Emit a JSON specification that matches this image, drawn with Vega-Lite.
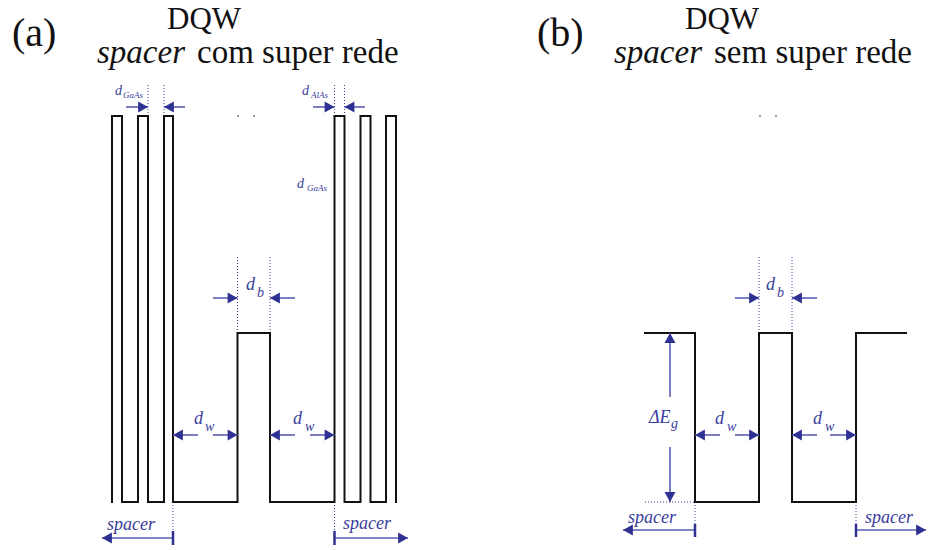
{
  "$schema": "https://vega.github.io/schema/vega-lite/v6.json",
  "width": 928,
  "height": 550,
  "autosize": {"type": "none"},
  "padding": 0,
  "background": "white",
  "config": {"view": {"stroke": null}},
  "datasets": {
    "profile": [
      {"panel": "a", "i": 1, "x": 112, "y": 502},
      {"panel": "a", "i": 2, "x": 112, "y": 116},
      {"panel": "a", "i": 3, "x": 122, "y": 116},
      {"panel": "a", "i": 4, "x": 122, "y": 502},
      {"panel": "a", "i": 5, "x": 138, "y": 502},
      {"panel": "a", "i": 6, "x": 138, "y": 116},
      {"panel": "a", "i": 7, "x": 148, "y": 116},
      {"panel": "a", "i": 8, "x": 148, "y": 502},
      {"panel": "a", "i": 9, "x": 164, "y": 502},
      {"panel": "a", "i": 10, "x": 164, "y": 116},
      {"panel": "a", "i": 11, "x": 173, "y": 116},
      {"panel": "a", "i": 12, "x": 173, "y": 502},
      {"panel": "a", "i": 13, "x": 237.5, "y": 502},
      {"panel": "a", "i": 14, "x": 237.5, "y": 333},
      {"panel": "a", "i": 15, "x": 270, "y": 333},
      {"panel": "a", "i": 16, "x": 270, "y": 502},
      {"panel": "a", "i": 17, "x": 334.5, "y": 502},
      {"panel": "a", "i": 18, "x": 334.5, "y": 116},
      {"panel": "a", "i": 19, "x": 344.5, "y": 116},
      {"panel": "a", "i": 20, "x": 344.5, "y": 502},
      {"panel": "a", "i": 21, "x": 360.5, "y": 502},
      {"panel": "a", "i": 22, "x": 360.5, "y": 116},
      {"panel": "a", "i": 23, "x": 370.5, "y": 116},
      {"panel": "a", "i": 24, "x": 370.5, "y": 502},
      {"panel": "a", "i": 25, "x": 386, "y": 502},
      {"panel": "a", "i": 26, "x": 386, "y": 116},
      {"panel": "a", "i": 27, "x": 396, "y": 116},
      {"panel": "a", "i": 28, "x": 396, "y": 502},
      {"panel": "b", "i": 1, "x": 645, "y": 333},
      {"panel": "b", "i": 2, "x": 695, "y": 333},
      {"panel": "b", "i": 3, "x": 695, "y": 502},
      {"panel": "b", "i": 4, "x": 759, "y": 502},
      {"panel": "b", "i": 5, "x": 759, "y": 333},
      {"panel": "b", "i": 6, "x": 792, "y": 333},
      {"panel": "b", "i": 7, "x": 792, "y": 502},
      {"panel": "b", "i": 8, "x": 856, "y": 502},
      {"panel": "b", "i": 9, "x": 856, "y": 333},
      {"panel": "b", "i": 10, "x": 906, "y": 333}
    ],
    "guides": [
      {"x": 148, "y": 85, "x2": 148, "y2": 116},
      {"x": 164, "y": 85, "x2": 164, "y2": 116},
      {"x": 334.5, "y": 85, "x2": 334.5, "y2": 116},
      {"x": 344.5, "y": 85, "x2": 344.5, "y2": 116},
      {"x": 237.5, "y": 257, "x2": 237.5, "y2": 333},
      {"x": 270, "y": 257, "x2": 270, "y2": 333},
      {"x": 173, "y": 502, "x2": 173, "y2": 545},
      {"x": 334.5, "y": 502, "x2": 334.5, "y2": 545},
      {"x": 759, "y": 257, "x2": 759, "y2": 333},
      {"x": 792, "y": 257, "x2": 792, "y2": 333},
      {"x": 645, "y": 502, "x2": 695, "y2": 502},
      {"x": 695, "y": 502, "x2": 695, "y2": 538},
      {"x": 856, "y": 502, "x2": 856, "y2": 538}
    ],
    "shafts": [
      {"x": 126, "y": 107, "x2": 148, "y2": 107},
      {"x": 164, "y": 107, "x2": 185, "y2": 107},
      {"x": 313, "y": 107, "x2": 334.5, "y2": 107},
      {"x": 344.5, "y": 107, "x2": 365, "y2": 107},
      {"x": 213, "y": 298, "x2": 237.5, "y2": 298},
      {"x": 270, "y": 298, "x2": 295, "y2": 298},
      {"x": 173, "y": 435, "x2": 198, "y2": 435},
      {"x": 213, "y": 435, "x2": 237.5, "y2": 435},
      {"x": 270, "y": 435, "x2": 295, "y2": 435},
      {"x": 310, "y": 435, "x2": 334.5, "y2": 435},
      {"x": 102, "y": 538, "x2": 173, "y2": 538},
      {"x": 334.5, "y": 538, "x2": 408, "y2": 538},
      {"x": 735, "y": 298, "x2": 759, "y2": 298},
      {"x": 792, "y": 298, "x2": 817, "y2": 298},
      {"x": 695, "y": 435, "x2": 720, "y2": 435},
      {"x": 735, "y": 435, "x2": 759, "y2": 435},
      {"x": 792, "y": 435, "x2": 817, "y2": 435},
      {"x": 830, "y": 435, "x2": 856, "y2": 435},
      {"x": 670, "y": 333, "x2": 670, "y2": 397},
      {"x": 670, "y": 447, "x2": 670, "y2": 502},
      {"x": 623, "y": 530, "x2": 695, "y2": 530},
      {"x": 856, "y": 530, "x2": 926, "y2": 530}
    ],
    "ticks": [
      {"x": 173, "y": 531, "x2": 173, "y2": 545},
      {"x": 334.5, "y": 531, "x2": 334.5, "y2": 545},
      {"x": 695, "y": 524, "x2": 695, "y2": 537},
      {"x": 856, "y": 524, "x2": 856, "y2": 537}
    ],
    "heads": [
      {"x": 148, "y": 107, "dir": "right"},
      {"x": 164, "y": 107, "dir": "left"},
      {"x": 334.5, "y": 107, "dir": "right"},
      {"x": 344.5, "y": 107, "dir": "left"},
      {"x": 237.5, "y": 298, "dir": "right"},
      {"x": 270, "y": 298, "dir": "left"},
      {"x": 173, "y": 435, "dir": "left"},
      {"x": 237.5, "y": 435, "dir": "right"},
      {"x": 270, "y": 435, "dir": "left"},
      {"x": 334.5, "y": 435, "dir": "right"},
      {"x": 102, "y": 538, "dir": "left"},
      {"x": 408, "y": 538, "dir": "right"},
      {"x": 759, "y": 298, "dir": "right"},
      {"x": 792, "y": 298, "dir": "left"},
      {"x": 695, "y": 435, "dir": "left"},
      {"x": 759, "y": 435, "dir": "right"},
      {"x": 792, "y": 435, "dir": "left"},
      {"x": 856, "y": 435, "dir": "right"},
      {"x": 670, "y": 333, "dir": "up"},
      {"x": 670, "y": 502, "dir": "down"},
      {"x": 623, "y": 530, "dir": "left"},
      {"x": 926, "y": 530, "dir": "right"}
    ],
    "specks": [
      {"x": 238, "y": 116},
      {"x": 254, "y": 116},
      {"x": 760, "y": 116},
      {"x": 776, "y": 116}
    ],
    "labels": [
      {"role": "panel", "x": 12, "y": 46, "text": "(a)"},
      {"role": "panel", "x": 537, "y": 46, "text": "(b)"},
      {"role": "head", "x": 167, "y": 29, "text": "DQW"},
      {"role": "head", "x": 685, "y": 29, "text": "DQW"},
      {"role": "title", "x": 197, "y": 63, "text": "com super rede"},
      {"role": "title", "x": 714, "y": 63, "text": "sem super rede"},
      {"role": "titleItalic", "x": 97, "y": 63, "text": "spacer"},
      {"role": "titleItalic", "x": 614, "y": 63, "text": "spacer"},
      {"role": "sym", "x": 194, "y": 424, "text": "d"},
      {"role": "sub", "x": 205, "y": 431, "text": "w"},
      {"role": "sym", "x": 293, "y": 424, "text": "d"},
      {"role": "sub", "x": 305, "y": 431, "text": "w"},
      {"role": "sym", "x": 715, "y": 424, "text": "d"},
      {"role": "sub", "x": 727, "y": 431, "text": "w"},
      {"role": "sym", "x": 813, "y": 424, "text": "d"},
      {"role": "sub", "x": 825, "y": 431, "text": "w"},
      {"role": "sym", "x": 246, "y": 290, "text": "d"},
      {"role": "sub", "x": 257, "y": 297, "text": "b"},
      {"role": "sym", "x": 766, "y": 290, "text": "d"},
      {"role": "sub", "x": 777, "y": 297, "text": "b"},
      {"role": "sym", "x": 649, "y": 423, "text": "ΔE"},
      {"role": "sub", "x": 671, "y": 428, "text": "g"},
      {"role": "spacer", "x": 107, "y": 530, "text": "spacer"},
      {"role": "spacer", "x": 343, "y": 529, "text": "spacer"},
      {"role": "spacer", "x": 628, "y": 523, "text": "spacer"},
      {"role": "spacer", "x": 865, "y": 523, "text": "spacer"},
      {"role": "smallSym", "x": 115, "y": 95, "text": "d"},
      {"role": "smallSub", "x": 123, "y": 98, "text": "GaAs"},
      {"role": "smallSym", "x": 302, "y": 95, "text": "d"},
      {"role": "smallSub", "x": 311, "y": 98, "text": "AlAs"},
      {"role": "smallSym", "x": 297, "y": 188, "text": "d"},
      {"role": "smallSub", "x": 307, "y": 191, "text": "GaAs"}
    ]
  },
  "encoding": {
    "x": {"field": "x", "type": "quantitative", "scale": {"domain": [0, 928]}, "axis": null},
    "y": {"field": "y", "type": "quantitative", "scale": {"domain": [0, 550], "reverse": true}, "axis": null}
  },
  "layer": [
    {
      "data": {"name": "guides"},
      "mark": {"type": "rule", "color": "#3a3d9c", "strokeWidth": 1, "strokeDash": [1, 2]},
      "encoding": {"x2": {"field": "x2"}, "y2": {"field": "y2"}}
    },
    {
      "data": {"name": "profile"},
      "mark": {"type": "line", "color": "#111111", "strokeWidth": 2, "strokeJoin": "miter", "strokeCap": "square"},
      "encoding": {"detail": {"field": "panel"}, "order": {"field": "i", "type": "quantitative"}}
    },
    {
      "data": {"name": "shafts"},
      "mark": {"type": "rule", "color": "#5b5fb3", "strokeWidth": 1.6},
      "encoding": {"x2": {"field": "x2"}, "y2": {"field": "y2"}}
    },
    {
      "data": {"name": "ticks"},
      "mark": {"type": "rule", "color": "#2e3192", "strokeWidth": 2.5},
      "encoding": {"x2": {"field": "x2"}, "y2": {"field": "y2"}}
    },
    {
      "data": {"name": "heads"},
      "mark": {"type": "point", "filled": true, "size": 121, "opacity": 1, "color": "#2e3192", "strokeWidth": 0},
      "encoding": {
        "shape": {
          "field": "dir",
          "type": "nominal",
          "legend": null,
          "scale": {
            "domain": ["right", "left", "up", "down"],
            "range": ["M0,0L-1.8,-1L-1.8,1Z", "M0,0L1.8,-1L1.8,1Z", "M0,0L-1,1.8L1,1.8Z", "M0,0L-1,-1.8L1,-1.8Z"]
          }
        }
      }
    },
    {
      "data": {"name": "specks"},
      "mark": {"type": "square", "size": 4, "color": "#9a9a9a", "opacity": 1}
    },
    {
      "data": {"name": "labels"},
      "transform": [{"filter": "datum.role === 'panel'"}],
      "mark": {"type": "text", "font": "Liberation Serif", "align": "left", "baseline": "alphabetic", "fontSize": 40, "color": "#111111"},
      "encoding": {"text": {"field": "text"}}
    },
    {
      "data": {"name": "labels"},
      "transform": [{"filter": "datum.role === 'head'"}],
      "mark": {"type": "text", "font": "Liberation Serif", "align": "left", "baseline": "alphabetic", "fontSize": 31, "color": "#111111"},
      "encoding": {"text": {"field": "text"}}
    },
    {
      "data": {"name": "labels"},
      "transform": [{"filter": "datum.role === 'title'"}],
      "mark": {"type": "text", "font": "Liberation Serif", "align": "left", "baseline": "alphabetic", "fontSize": 33, "color": "#111111"},
      "encoding": {"text": {"field": "text"}}
    },
    {
      "data": {"name": "labels"},
      "transform": [{"filter": "datum.role === 'titleItalic'"}],
      "mark": {"type": "text", "font": "Liberation Serif", "align": "left", "baseline": "alphabetic", "fontStyle": "italic", "fontSize": 33, "color": "#111111"},
      "encoding": {"text": {"field": "text"}}
    },
    {
      "data": {"name": "labels"},
      "transform": [{"filter": "datum.role === 'sym'"}],
      "mark": {"type": "text", "font": "Liberation Serif", "align": "left", "baseline": "alphabetic", "fontStyle": "italic", "fontSize": 18, "color": "#3a3d9c"},
      "encoding": {"text": {"field": "text"}}
    },
    {
      "data": {"name": "labels"},
      "transform": [{"filter": "datum.role === 'sub'"}],
      "mark": {"type": "text", "font": "Liberation Serif", "align": "left", "baseline": "alphabetic", "fontStyle": "italic", "fontSize": 14, "color": "#3a3d9c"},
      "encoding": {"text": {"field": "text"}}
    },
    {
      "data": {"name": "labels"},
      "transform": [{"filter": "datum.role === 'spacer'"}],
      "mark": {"type": "text", "font": "Liberation Serif", "align": "left", "baseline": "alphabetic", "fontStyle": "italic", "fontSize": 18, "color": "#3a3d9c"},
      "encoding": {"text": {"field": "text"}}
    },
    {
      "data": {"name": "labels"},
      "transform": [{"filter": "datum.role === 'smallSym'"}],
      "mark": {"type": "text", "font": "Liberation Serif", "align": "left", "baseline": "alphabetic", "fontStyle": "italic", "fontSize": 14, "color": "#3a3d9c"},
      "encoding": {"text": {"field": "text"}}
    },
    {
      "data": {"name": "labels"},
      "transform": [{"filter": "datum.role === 'smallSub'"}],
      "mark": {"type": "text", "font": "Liberation Serif", "align": "left", "baseline": "alphabetic", "fontStyle": "italic", "fontSize": 9, "color": "#3a3d9c"},
      "encoding": {"text": {"field": "text"}}
    }
  ]
}
